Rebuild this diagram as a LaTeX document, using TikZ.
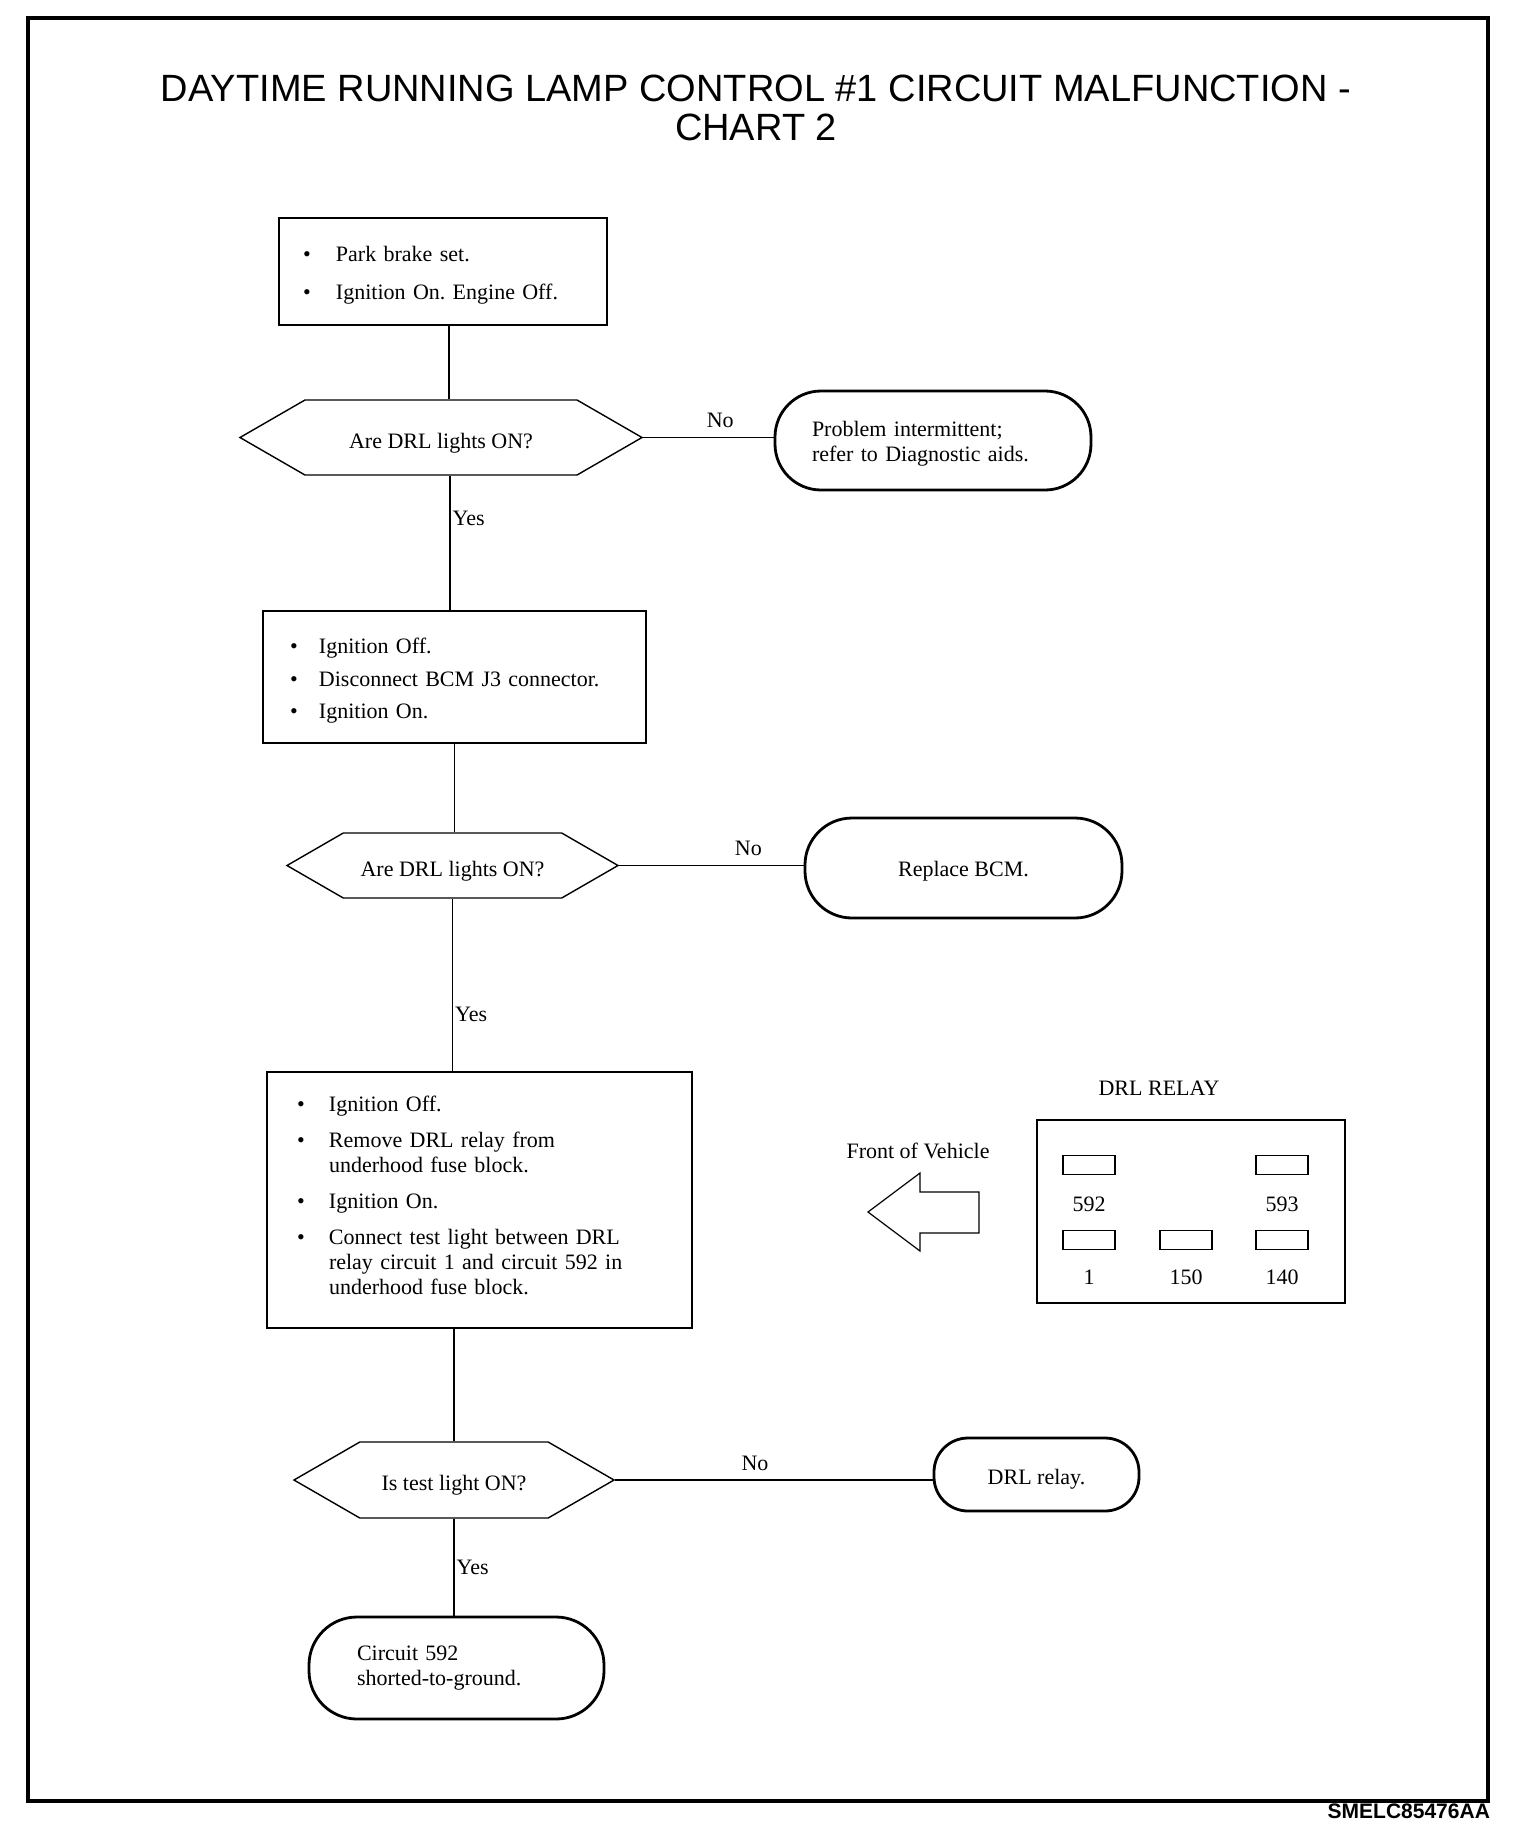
\documentclass[tikz,border=0pt]{standalone}
\usepackage{fontspec}
\setmainfont{Liberation Serif}
\newfontfamily\headfont{Liberation Sans}
\usetikzlibrary{shapes.symbols,positioning}
\frenchspacing
\newcommand{\dropby}[2]{\raisebox{-#1}[\height][\depth]{#2}}

\begin{document}
\begin{tikzpicture}[
    x=0.5pt, y=-0.5pt,
    every node/.style={font=\fontsize{11}{12.5}\selectfont},
    stepbox/.style={draw, line width=1.2pt, align=left, inner ysep=0pt},
    askbox/.style={draw, line width=0.7pt, signal, signal to=west and east,
      signal pointer angle=60, inner sep=0pt},
    endbox/.style={draw, line width=1.4pt, rounded corners=#1, inner ysep=0pt},
    link/.style={line width=0.6pt},
    lbl/.style={inner sep=1pt},
    pinbox/.style={draw, line width=0.9pt, minimum width=26pt, minimum height=9.5pt,
      inner sep=0pt},
  ]
  \useasboundingbox (0,0) rectangle (1520,1838);

  % Frame and title
  \draw[line width=1.7pt] (28,18) rectangle (1488,1801);
  \node[align=center, font=\headfont\fontsize{19}{19.5}\selectfont] (title) at (756,107.5)
    {DAYTIME RUNNING LAMP CONTROL \#1 CIRCUIT MALFUNCTION -\\CHART 2};
  \node[anchor=east, font=\headfont\bfseries\fontsize{10.5}{12}\selectfont] (code) at (1497,1811)
    {SMELC85476AA};

  % Steps
  \node[stepbox, minimum height=53.5pt, inner xsep=12pt, text width=140pt] (prep) at (443,271.5)
    {\dropby{1.8pt}{\begin{tabular}{@{}p{16.5pt}@{}l@{}}
      \textbullet & Park brake set.\\[6.5pt]
      \textbullet & Ignition On. Engine Off.
     \end{tabular}}};
  \node[askbox, minimum width=201pt, minimum height=37.5pt] (ask1) at (441,437.5)
    {\dropby{3pt}{Are DRL lights ON?}};
  \node[endbox=23pt, minimum height=49.5pt, inner xsep=18.5pt, text width=121pt, align=left]
    (end1) at (933,440.5)
    {\dropby{1.8pt}{\begin{tabular}{@{}l@{}}Problem intermittent;\\refer to Diagnostic aids.\end{tabular}}};

  \node[stepbox, minimum height=66pt, inner xsep=13.5pt, text width=164.5pt] (bcm) at (454.5,677)
    {\dropby{2.2pt}{\begin{tabular}{@{}p{14.5pt}@{}l@{}}
      \textbullet & Ignition Off.\\[3.75pt]
      \textbullet & Disconnect BCM J3 connector.\\[3.75pt]
      \textbullet & Ignition On.
     \end{tabular}}};
  \node[askbox, minimum width=165.5pt, minimum height=32.5pt] (ask2) at (452.5,865.5)
    {\dropby{3pt}{Are DRL lights ON?}};
  \node[endbox=23.5pt, minimum width=158.5pt, minimum height=50pt] (end2) at (963.5,868)
    {\dropby{1.8pt}{Replace BCM.}};

  \node[stepbox, minimum height=128pt, inner xsep=15pt, text width=182.5pt] (relaytest) at (479.5,1200)
    {\dropby{-1pt}{\begin{tabular}{@{}p{16pt}@{}l@{}}
      \textbullet & Ignition Off.\\[5.5pt]
      \textbullet & Remove DRL relay from\\
                  & underhood fuse block.\\[5.5pt]
      \textbullet & Ignition On.\\[5.5pt]
      \textbullet & Connect test light between DRL\\
                  & relay circuit 1 and circuit 592 in\\
                  & underhood fuse block.
     \end{tabular}}};
  \node[askbox, minimum width=160pt, minimum height=38pt] (ask3) at (454,1480)
    {\dropby{2.8pt}{Is test light ON?}};
  \node[endbox=17pt, minimum width=102.5pt, minimum height=36.5pt] (end3) at (1036.5,1474.5)
    {\dropby{2.5pt}{DRL relay.}};
  \node[endbox=24pt, minimum height=51pt, inner xsep=24pt, text width=99.5pt, align=left]
    (end4) at (456.5,1668)
    {Circuit 592\\shorted-to-ground.};

  % Connectors
  \draw[link] ([xshift=3pt]prep.south) -- ([xshift=3pt]prep.south |- ask1.north);
  \draw[link] (ask1.east) -- (ask1.east -| end1.west)
    node[lbl, pos=0.59, above=3.5pt] {No};
  \draw[link] ([xshift=4.5pt]ask1.south) -- ([xshift=4.5pt]ask1.south |- bcm.north)
    node[lbl, pos=0.32, right] {Yes};
  \draw[link] (bcm.south) -- (bcm.south |- ask2.north);
  \draw[link] (ask2.east) -- (ask2.east -| end2.west)
    node[lbl, pos=0.7, above=3.5pt] {No};
  \draw[link] (ask2.south) -- (ask2.south |- relaytest.north)
    node[lbl, pos=0.67, right] {Yes};
  \draw[link] (ask3.north |- relaytest.south) -- (ask3.north);
  \draw[link] (ask3.east) -- (ask3.east -| end3.west)
    node[lbl, pos=0.44, above=3.5pt] {No};
  \draw[link] (ask3.south) -- (ask3.south |- end4.north)
    node[lbl, pos=0.5, right] {Yes};

  % DRL relay view
  \node (relaytitle) at (1159,1088) {DRL RELAY};
  \node[draw, line width=0.9pt, minimum width=154pt, minimum height=91.5pt] (relay) at (1191,1211.5) {};
  \node[pinbox] (p592) at (1089,1165) {};
  \node[pinbox] (p593) at (1282,1165) {};
  \node[pinbox] (p1) at (1089,1240) {};
  \node[pinbox] (p150) at (1186,1240) {};
  \node[pinbox] (p140) at (1282,1240) {};
  \node (l592) at (1089,1204) {592};
  \node (l593) at (1282,1204) {593};
  \node (l1) at (1089,1277) {1};
  \node (l150) at (1186,1277) {150};
  \node (l140) at (1282,1277) {140};

  \node (front) at (918,1151) {Front of Vehicle};
  \draw[line width=0.6pt] (868,1212) -- (920,1173) -- (920,1192) -- (979,1192)
    -- (979,1233) -- (920,1233) -- (920,1251) -- cycle;

\end{tikzpicture}
\end{document}
